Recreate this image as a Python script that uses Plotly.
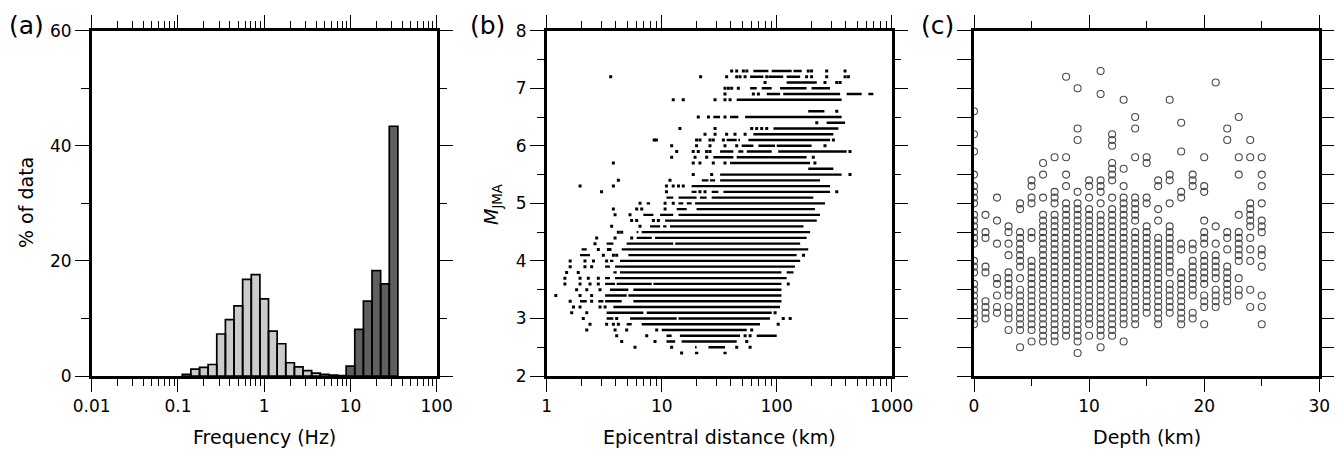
import plotly.graph_objects as go

FONT = "DejaVu Sans"

# ---------------- (a) histogram of corner frequencies ----------------
# bin centres in log10(Hz), 0.1 log-unit bins; percentage of data
low_log_centres = [-0.9, -0.8, -0.7, -0.6, -0.5, -0.4, -0.3, -0.2, -0.1, 0.0,
                   0.1, 0.2, 0.3, 0.4, 0.5, 0.6, 0.7, 0.8, 0.9]
low_pct = [0.3, 1.2, 1.5, 2.0, 7.3, 9.8, 12.2, 16.8, 17.6, 13.4,
           7.8, 5.6, 2.3, 1.6, 0.95, 0.5, 0.3, 0.15, 0.08]
high_log_centres = [1.0, 1.1, 1.2, 1.3, 1.4, 1.5]
high_pct = [1.7, 8.1, 13.0, 18.3, 16.0, 43.4]
bin_width_log = 0.1

# ---------------- (b) magnitude vs epicentral distance ----------------
# each row: magnitude, isolated points (km), dense runs of points [from, to] (km)
b_mags = [7.3, 7.2, 7.1, 7.0, 6.9, 6.8, 6.6, 6.5, 6.4, 6.3, 6.2, 6.1, 6.0, 5.9, 5.8,
          5.7, 5.6, 5.5, 5.4, 5.3, 5.2, 5.1, 5.0, 4.9, 4.8, 4.7, 4.6, 4.5, 4.4, 4.3,
          4.2, 4.1, 4.0, 3.9, 3.8, 3.7, 3.6, 3.5, 3.4, 3.3, 3.2, 3.1, 3.0, 2.9, 2.8,
          2.7, 2.6, 2.5, 2.4]
b_points = [
    [40.6, 44.9, 51.3, 55.0, 188, 201, 272, 393],
    [3.6, 21.8, 36.7, 44.9, 48.0, 53.1, 81.9, 182, 201, 272, 393, 420],
    [79.2, 263, 333, 356],
    [35.5, 38.0, 40.6, 46.4],
    [35.5, 62.7, 69.3],
    [12.6, 15.4, 29.1, 35.5, 39.3],
    [333],
    [20.8, 25.5, 35.5],
    [223],
    [14.4, 29.1, 60.6, 67.0, 74.1, 81.9],
    [23.8, 29.1, 36.7, 43.4, 53.1],
    [8.6, 9.0, 20.1, 21.5, 26.3, 28.1, 34.4, 311],
    [12.2, 20.1, 26.3, 35.5, 44.9, 263],
    [13.5, 18.8, 20.8, 24.6, 26.3, 434],
    [12.2, 19.5, 24.6, 208],
    [3.8, 18.8, 21.5, 28.1, 35.5, 215],
    [],
    [18.8, 27.2, 434],
    [4.2, 11.8],
    [1.95, 3.8, 11.0, 12.6, 14.0, 15.4],
    [3.0, 11.0, 21.5, 23.8, 333],
    [],
    [6.48, 10.7, 12.6],
    [3.8, 6.06, 6.7, 10.7],
    [3.93, 5.3],
    [5.48, 6.06, 8.47, 9.36],
    [3.67, 6.48],
    [4.2, 4.49],
    [2.72, 3.93, 5.48],
    [2.63],
    [2.81, 3.44, 3.55],
    [3.11, 3.8, 4.06, 171],
    [1.6, 2.15, 2.55, 3.32],
    [1.6, 2.15, 2.46],
    [1.49, 1.88],
    [1.44, 1.95, 2.3, 2.81],
    [1.44, 1.95, 2.38, 2.81, 126],
    [1.82, 2.23, 2.91],
    [1.2, 1.95, 2.46],
    [1.6, 2.46],
    [1.71, 1.95, 2.91, 3.22],
    [1.65, 2.23, 96.8],
    [2.08, 4.06, 114, 131],
    [2.38, 3.32, 3.8, 4.2, 103],
    [2.23, 3.93, 4.96, 9.05, 60.6],
    [4.06, 7.41, 53.1, 58.7],
    [4.49, 8.75, 54.9],
    [5.86, 12.2, 44.9, 58.7],
    [14.9],
]
b_runs = [
    [[62.7, 84.7], [90.5, 135], [140, 165]],
    [[58.7, 76.6], [84.7, 114], [122, 160]],
    [[122, 223]],
    [[58.7, 67.0], [74.1, 90.5], [107, 182], [201, 291]],
    [[81.9, 107], [114, 356], [406, 548], [627, 693]],
    [[44.9, 367]],
    [[188, 260]],
    [[28.1, 32.2], [39.3, 46.4], [53.1, 367]],
    [[272, 393]],
    [[93.6, 344]],
    [[62.7, 311]],
    [[36.7, 44.9], [46.4, 48.0], [56.7, 291]],
    [[49.6, 62.7], [69.3, 96.8], [100, 201]],
    [[32.2, 42.0], [46.4, 51.3], [54.9, 90.5], [103, 406]],
    [[28.1, 42.0], [44.9, 182]],
    [[39.3, 195]],
    [[188, 311]],
    [[32.2, 367]],
    [[22.3, 25.5], [26.3, 29.1], [32.2, 238]],
    [[18.2, 291]],
    [[18.2, 20.1], [27.2, 31.1], [34.4, 291]],
    [[11.0, 12.6], [14.0, 20.1], [21.5, 24.6], [27.2, 208]],
    [[7.41, 7.92], [14.0, 15.4], [16.5, 18.2], [19.5, 263]],
    [[13.5, 16.5], [20.1, 215]],
    [[6.93, 8.47], [9.68, 12.6], [14.0, 238]],
    [[10.7, 223]],
    [[7.92, 9.68], [10.3, 11.0], [11.8, 171]],
    [[6.06, 6.27], [6.7, 195]],
    [[6.06, 8.19], [8.75, 182]],
    [[3.32, 3.8], [4.96, 12.6], [13.1, 160]],
    [[2.01, 2.23], [4.49, 188]],
    [[1.95, 2.38], [5.13, 149]],
    [[3.55, 3.8], [4.34, 160]],
    [[3.22, 3.55], [3.93, 144]],
    [[3.8, 4.06], [4.34, 110], [122, 140]],
    [[3.22, 3.55], [3.93, 122]],
    [[3.22, 3.93], [4.06, 8.19], [8.47, 110]],
    [[3.55, 5.13], [5.67, 110]],
    [[3.22, 4.96], [5.13, 110]],
    [[1.95, 2.23], [2.81, 3.11], [3.22, 4.49], [5.67, 110]],
    [[3.8, 107]],
    [[3.32, 6.93], [7.41, 90.5]],
    [[3.32, 3.8], [5.3, 13.5], [14.0, 87.5]],
    [[4.96, 5.48], [6.7, 71.5]],
    [[10.0, 54.9]],
    [[11.0, 12.2], [14.4, 48.0], [67.0, 100]],
    [[11.0, 13.1], [14.9, 44.9]],
    [[19.5, 20.1], [25.5, 35.5]],
    [[19.5, 20.8], [34.4, 36.7]],
]

# ---------------- (c) magnitude vs depth ----------------
c_depths = [0, 1, 2, 3, 4, 5, 6, 7, 8, 9, 10, 11, 12, 13, 14, 15, 16, 17, 18, 19,
            20, 21, 22, 23, 24, 25]
c_mags = [
    [6.6, 6.2, 5.9, 5.5, 5.3, 5.2, 5.1, 5.0, 4.8, 4.7, 4.6, 4.5, 4.4, 4.3, 4.0, 3.9,
     3.8, 3.6, 3.5, 3.4, 3.3, 3.2, 3.1, 3.0, 2.9],
    [4.8, 4.5, 4.4, 3.9, 3.8, 3.3, 3.2, 3.1, 3.0],
    [5.1, 4.7, 4.3, 3.7, 3.6, 3.4, 3.2, 3.1],
    [4.6, 4.5, 4.3, 4.1, 3.8, 3.7, 3.6, 3.5, 3.4, 3.2, 3.1, 3.0, 2.8],
    [5.0, 4.9, 4.5, 4.4, 4.3, 4.2, 4.1, 4.0, 3.9, 3.7, 3.5, 3.4, 3.3, 3.2, 3.1, 3.0,
     2.9, 2.8, 2.5],
    [5.4, 5.3, 5.1, 5.0, 4.5, 4.4, 4.0, 3.9, 3.8, 3.7, 3.6, 3.5, 3.4, 3.3, 3.2, 3.1,
     3.0, 2.9, 2.8, 2.6],
    [5.7, 5.5, 5.1, 4.8, 4.7, 4.6, 4.5, 4.4, 4.3, 4.2, 4.1, 4.0, 3.9, 3.8, 3.7, 3.6,
     3.5, 3.4, 3.3, 3.2, 3.1, 3.0, 2.9, 2.8, 2.7, 2.6],
    [5.8, 5.2, 5.1, 5.0, 4.8, 4.7, 4.6, 4.5, 4.4, 4.3, 4.2, 4.1, 4.0, 3.9, 3.8, 3.7,
     3.6, 3.5, 3.4, 3.3, 3.2, 3.1, 3.0, 2.9, 2.8, 2.7, 2.6],
    [7.2, 5.8, 5.5, 5.3, 5.0, 4.9, 4.8, 4.7, 4.6, 4.5, 4.4, 4.3, 4.2, 4.1, 4.0, 3.9,
     3.8, 3.7, 3.6, 3.5, 3.4, 3.3, 3.2, 3.1, 3.0, 2.9, 2.8, 2.7],
    [7.0, 6.3, 6.1, 5.2, 5.0, 4.9, 4.8, 4.7, 4.6, 4.5, 4.4, 4.3, 4.2, 4.1, 4.0, 3.9,
     3.8, 3.7, 3.6, 3.5, 3.4, 3.3, 3.2, 3.1, 3.0, 2.9, 2.8, 2.7, 2.6, 2.4],
    [5.4, 5.3, 5.1, 4.9, 4.8, 4.7, 4.6, 4.5, 4.4, 4.3, 4.2, 4.1, 4.0, 3.9, 3.8, 3.7,
     3.6, 3.5, 3.4, 3.3, 3.2, 3.1, 3.0, 2.9, 2.7],
    [7.3, 6.9, 5.4, 5.3, 5.2, 5.0, 4.8, 4.7, 4.6, 4.5, 4.4, 4.3, 4.2, 4.1, 4.0, 3.9,
     3.8, 3.7, 3.6, 3.5, 3.4, 3.3, 3.2, 3.1, 3.0, 2.9, 2.8, 2.7, 2.5],
    [6.2, 6.1, 6.0, 5.7, 5.6, 5.5, 5.4, 5.1, 4.9, 4.8, 4.7, 4.6, 4.5, 4.4, 4.3, 4.2,
     4.1, 4.0, 3.9, 3.8, 3.7, 3.6, 3.5, 3.4, 3.3, 3.2, 3.1, 3.0, 2.9, 2.8, 2.7],
    [6.8, 5.6, 5.3, 5.1, 5.0, 4.9, 4.8, 4.7, 4.6, 4.5, 4.4, 4.3, 4.2, 4.1, 4.0, 3.9,
     3.8, 3.7, 3.6, 3.5, 3.4, 3.3, 3.2, 3.1, 3.0, 2.9, 2.6],
    [6.5, 6.3, 5.8, 5.1, 5.0, 4.9, 4.8, 4.7, 4.5, 4.4, 4.3, 4.2, 4.1, 4.0, 3.9, 3.8,
     3.7, 3.6, 3.5, 3.4, 3.3, 3.2, 3.1, 3.0, 2.9],
    [5.8, 5.7, 5.1, 5.0, 4.6, 4.5, 4.4, 4.3, 4.2, 4.1, 4.0, 3.9, 3.8, 3.7, 3.6, 3.5,
     3.4, 3.3, 3.2, 3.1],
    [5.4, 5.3, 4.9, 4.7, 4.4, 4.3, 4.2, 4.1, 4.0, 3.9, 3.8, 3.7, 3.6, 3.5, 3.4, 3.3,
     3.2, 3.1, 3.0, 2.9],
    [6.8, 5.5, 5.4, 5.0, 4.6, 4.5, 4.4, 4.3, 4.2, 4.1, 4.0, 3.9, 3.8, 3.6, 3.5, 3.4,
     3.3, 3.2, 3.1],
    [6.4, 5.9, 5.2, 5.1, 4.3, 4.2, 3.8, 3.7, 3.6, 3.5, 3.4, 3.3, 3.2, 3.1, 3.0, 2.9],
    [5.5, 5.4, 5.3, 4.3, 4.2, 4.0, 3.9, 3.8, 3.7, 3.6, 3.5, 3.4, 3.1, 3.0],
    [5.8, 5.3, 5.2, 4.7, 4.5, 4.4, 4.3, 4.1, 4.0, 3.9, 3.8, 3.7, 3.6, 3.4, 3.3, 3.2,
     2.9],
    [7.1, 4.6, 4.3, 4.1, 4.0, 3.9, 3.8, 3.7, 3.5, 3.4, 3.3, 3.2],
    [6.3, 6.1, 4.5, 4.4, 4.2, 3.9, 3.8, 3.7, 3.6, 3.5, 3.4, 3.3],
    [6.5, 5.8, 5.5, 4.8, 4.5, 4.4, 4.3, 4.2, 4.1, 4.0, 3.7, 3.5, 3.4],
    [6.1, 5.8, 5.0, 4.9, 4.8, 4.7, 4.6, 4.4, 4.2, 4.0, 3.5, 3.2],
    [5.8, 5.5, 5.3, 5.0, 4.7, 4.6, 4.5, 4.2, 4.1, 3.9, 3.4, 3.2, 2.9],
]

# ---------------- figure ----------------
fig = go.Figure()


def bar_polygons(log_centres, heights):
    xs, ys = [], []
    for c, h in zip(log_centres, heights):
        lo = 10 ** (c - bin_width_log / 2)
        hi = 10 ** (c + bin_width_log / 2)
        xs += [lo, lo, hi, hi, lo, None]
        ys += [0, h, h, 0, 0, None]
    return xs, ys


for centres, pct, col in [(low_log_centres, low_pct, "#cbcbcb"),
                          (high_log_centres, high_pct, "#5f5f5f")]:
    bx, by = bar_polygons(centres, pct)
    fig.add_trace(go.Scatter(x=bx, y=by, mode="lines", fill="toself",
                             fillcolor=col, line=dict(color="black", width=1.7),
                             xaxis="x", yaxis="y", hoverinfo="skip"))

# (b) dense runs as short thick lines, isolated points as small squares
run_x, run_y, pt_x, pt_y = [], [], [], []
for m, pts, runs in zip(b_mags, b_points, b_runs):
    for a, b in runs:
        run_x += [a, b, None]
        run_y += [m, m, None]
    for p in pts:
        pt_x.append(p)
        pt_y.append(m)
fig.add_trace(go.Scatter(x=run_x, y=run_y, mode="lines",
                         line=dict(color="black", width=2.4),
                         xaxis="x2", yaxis="y2", hoverinfo="skip"))
fig.add_trace(go.Scatter(x=pt_x, y=pt_y, mode="markers",
                         marker=dict(symbol="square", size=3, color="black",
                                     line=dict(width=0)),
                         xaxis="x2", yaxis="y2"))

# (c) open circles
cx, cy = [], []
for d, mags in zip(c_depths, c_mags):
    for m in mags:
        cx.append(d)
        cy.append(m)
fig.add_trace(go.Scatter(x=cx, y=cy, mode="markers",
                         marker=dict(symbol="circle-open", size=7, color="#4a4a4a",
                                     line=dict(width=1.1)),
                         xaxis="x3", yaxis="y3"))

# The page body adds an 8 px margin, so the figure is 16 px smaller and
# every position below is given in page pixels minus that offset.
OFF = 8
W, H = 1342 - 2 * OFF + 8, 455 - 2 * OFF + 8


def px_x(x):
    return (x - OFF) / W


def px_y(y):
    return (H - (y - OFF)) / H


TOP, BOT = 30.7, 376.0
ydom = [px_y(BOT), px_y(TOP)]

tickfont = dict(family=FONT, size=17, color="black")
common = dict(showline=True, linewidth=2.5, linecolor="black", mirror="allticks",
              ticks="outside", tickwidth=1.3, tickcolor="black", showgrid=False,
              zeroline=False, tickfont=tickfont, fixedrange=True, automargin=False)


def log_minor(decades):
    vals = []
    for dec in decades:
        for k in [2, 3, 4, 5, 6, 7, 8, 9]:
            vals.append(k * 10.0 ** dec)
    return vals


fig.update_layout(
    template="none",
    width=W, height=H, margin=dict(l=0, r=0, t=0, b=0, pad=0, autoexpand=False),
    paper_bgcolor="white", plot_bgcolor="white", showlegend=False,
    xaxis=dict(common, type="log", range=[-2, 2], domain=[px_x(91.7), px_x(436.7)],
               tickmode="array", tickvals=[0.01, 0.1, 1, 10, 100],
               ticktext=["0.01", "0.1", "1", "10", "100"], ticklen=13,
               minor=dict(tickmode="array", tickvals=log_minor([-2, -1, 0, 1]),
                          ticks="outside", ticklen=7, tickwidth=1.3, tickcolor="black"),
               anchor="y"),
    yaxis=dict(common, range=[0, 60], domain=ydom, tickmode="array",
               tickvals=[0, 20, 40, 60], ticklen=14,
               minor=dict(tickmode="array", tickvals=[10, 30, 50], ticks="outside",
                          ticklen=8, tickwidth=1.3, tickcolor="black"),
               anchor="x"),
    xaxis2=dict(common, type="log", range=[0, 3], domain=[px_x(546.7), px_x(891.7)],
                tickmode="array", tickvals=[1, 10, 100, 1000],
                ticktext=["1", "10", "100", "1000"], ticklen=13,
                minor=dict(tickmode="array", tickvals=log_minor([0, 1, 2]),
                           ticks="outside", ticklen=7, tickwidth=1.3, tickcolor="black"),
                anchor="y2"),
    yaxis2=dict(common, range=[2, 8], domain=ydom, tickmode="array",
                tickvals=[2, 3, 4, 5, 6, 7, 8], ticklen=14,
                minor=dict(tickmode="array",
                           tickvals=[2.5, 3.5, 4.5, 5.5, 6.5, 7.5],
                           ticks="outside", ticklen=7, tickwidth=1.3, tickcolor="black"),
                anchor="x2"),
    xaxis3=dict(common, range=[0, 30], domain=[px_x(974.0), px_x(1319.3)],
                tickmode="array", tickvals=[0, 10, 20, 30], ticklen=13,
                minor=dict(tickmode="array", tickvals=[5, 15, 25], ticks="outside",
                           ticklen=7, tickwidth=1.3, tickcolor="black"),
                anchor="y3"),
    yaxis3=dict(common, range=[2, 8], domain=ydom, tickmode="array",
                tickvals=[2, 2.5, 3, 3.5, 4, 4.5, 5, 5.5, 6, 6.5, 7, 7.5, 8],
                ticklen=14, showticklabels=False, anchor="x3"),
)

titlefont = dict(family=FONT, size=19, color="black")
ann = []
ann.append(dict(text="Frequency (Hz)", x=px_x(264), y=px_y(437)))
ann.append(dict(text="Epicentral distance (km)", x=px_x(719), y=px_y(437)))
ann.append(dict(text="Depth (km)", x=px_x(1147), y=px_y(437)))
for a in ann:
    a.update(xref="paper", yref="paper", xanchor="center", yanchor="middle",
             showarrow=False, font=titlefont)
ann.append(dict(text="% of data", x=px_x(26), y=px_y(203), textangle=-90,
                xref="paper", yref="paper", xanchor="center", yanchor="middle",
                showarrow=False, font=titlefont))
ann.append(dict(text="<i>M</i><sub>JMA</sub>", x=px_x(492), y=px_y(205),
                textangle=-90, xref="paper", yref="paper", xanchor="center",
                yanchor="middle", showarrow=False, font=titlefont))
for lab, xc in [("(a)", 26), ("(b)", 487), ("(c)", 937)]:
    ann.append(dict(text=lab, x=px_x(xc), y=px_y(25), xref="paper", yref="paper",
                    xanchor="center", yanchor="middle", showarrow=False,
                    font=dict(family=FONT, size=25, color="black")))
fig.update_layout(annotations=ann)

fig.write_html("out.html")
